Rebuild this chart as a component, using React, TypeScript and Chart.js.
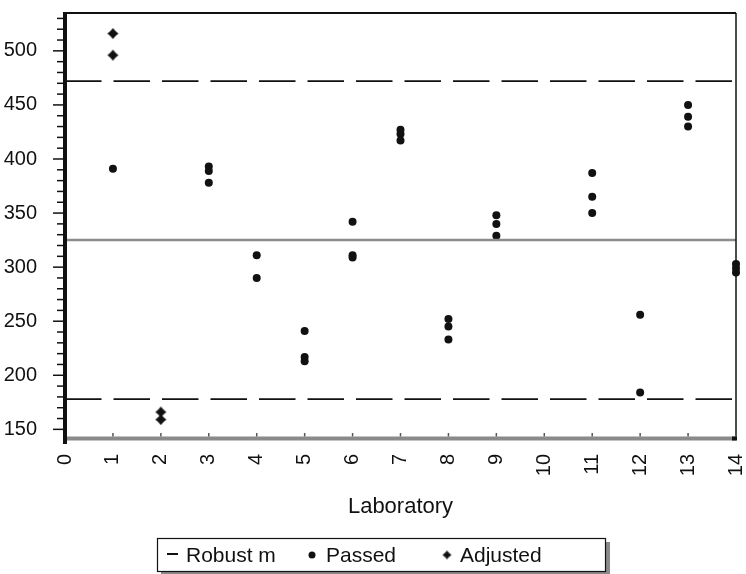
import React, { useEffect, useRef } from 'react';
import { Chart, registerables } from 'chart.js';

Chart.register(...registerables);

// ---- data ----
const xTickLabels = ['0', '1', '2', '3', '4', '5', '6', '7', '8', '9', '10', '11', '12', '13', '14'];
const yTickLabels = ['150', '200', '250', '300', '350', '400', '450', '500'];
const laboratories = [1, 2, 3, 4, 5, 6, 7, 8, 9, 10, 11, 12, 13, 14];
const passedValues: number[][] = [
  [391],
  [],
  [393, 389, 378],
  [311, 290],
  [241, 217, 213],
  [342, 311, 309],
  [427, 423, 417],
  [252, 245, 233],
  [348, 340, 329],
  [],
  [387, 365, 350],
  [256, 184],
  [450, 439, 430],
  [303, 299, 295],
];
const adjustedValues: number[][] = [
  [516, 496],
  [166, 159],
  [], [], [], [], [], [], [], [], [], [], [], [],
];
const robustMean = 325;
const upperLimit = 472;
const lowerLimit = 178;
const yMin = 142;
const yMax = 535;
const legendLabels = ['Robust m', 'Passed', 'Adjusted'];
const xTitle = 'Laboratory';

const FONT = "'Liberation Sans', Arial, sans-serif";

function makeStar(r: number, k: number): HTMLCanvasElement {
  const s = Math.ceil(r * 2) + 2;
  const c = document.createElement('canvas');
  c.width = s;
  c.height = s;
  const ctx = c.getContext('2d')!;
  const m = s / 2;
  ctx.fillStyle = '#111';
  ctx.beginPath();
  ctx.moveTo(m, m - r);
  ctx.quadraticCurveTo(m + r * k, m - r * k, m + r, m);
  ctx.quadraticCurveTo(m + r * k, m + r * k, m, m + r);
  ctx.quadraticCurveTo(m - r * k, m + r * k, m - r, m);
  ctx.quadraticCurveTo(m - r * k, m - r * k, m, m - r);
  ctx.closePath();
  ctx.fill();
  return c;
}

function toPoints(values: number[][]) {
  const pts: { x: number; y: number }[] = [];
  values.forEach((vals, i) => vals.forEach((v) => pts.push({ x: laboratories[i], y: v })));
  return pts;
}

export default function App() {
  const ref = useRef<HTMLCanvasElement | null>(null);

  useEffect(() => {
    if (!ref.current) return;
    const star = makeStar(5.5, 0.42);
    const legendStar = makeStar(4.5, 0.4);

    const decor = {
      id: 'decor',
      afterDraw(chart: any) {
        const { ctx, chartArea: ca, scales } = chart;
        const x = scales.x;
        const y = scales.y;
        const line = (x1: number, y1: number, x2: number, y2: number) => {
          ctx.beginPath();
          ctx.moveTo(x1, y1);
          ctx.lineTo(x2, y2);
          ctx.stroke();
        };
        ctx.save();
        // top border
        ctx.strokeStyle = '#111';
        ctx.lineWidth = 2;
        line(ca.left, ca.top, ca.right, ca.top);
        // right border
        ctx.lineWidth = 1.5;
        line(ca.right, ca.top, ca.right, ca.bottom);
        // x axis (gray thick)
        ctx.strokeStyle = '#8a8a8a';
        ctx.lineWidth = 4;
        line(ca.left, ca.bottom + 0.5, ca.right, ca.bottom + 0.5);
        ctx.fillStyle = '#111';
        ctx.fillRect(ca.right - 4, ca.bottom - 1.5, 5, 4);
        // x small ticks
        ctx.strokeStyle = '#555';
        ctx.lineWidth = 1.5;
        for (let i = 0; i <= 14; i++) {
          const px = x.getPixelForValue(i);
          line(px, ca.bottom - 1.5, px, ca.bottom - 5);
        }
        // y ticks
        ctx.strokeStyle = '#111';
        ctx.lineWidth = 1.5;
        for (let v = 150; v <= 530; v += 10) {
          const py = y.getPixelForValue(v);
          const major = v % 50 === 0;
          line(major ? ca.left - 12 : ca.left - 8, py, ca.left, py);
        }
        // y axis line
        ctx.lineWidth = 4;
        line(ca.left, ca.top - 1, ca.left, ca.bottom + 6);

        // x title
        ctx.fillStyle = '#111';
        ctx.font = `22px ${FONT}`;
        ctx.textAlign = 'center';
        ctx.textBaseline = 'middle';
        ctx.fillText(xTitle, (ca.left + ca.right) / 2, 507);

        // legend box
        const bx = 157, by = 538, bw = 448, bh = 33;
        ctx.fillStyle = '#8a8a8a';
        ctx.fillRect(bx + bw, by + 4, 5, bh);
        ctx.fillRect(bx + 4, by + bh, bw, 3);
        ctx.fillStyle = '#fff';
        ctx.fillRect(bx, by, bw, bh);
        ctx.strokeStyle = '#111';
        ctx.lineWidth = 1.2;
        ctx.strokeRect(bx + 0.5, by + 0.5, bw, bh);
        const cy = by + 17;
        ctx.lineWidth = 2;
        line(167, cy - 1, 178, cy - 1);
        ctx.fillStyle = '#111';
        ctx.beginPath();
        ctx.arc(312, cy, 3.5, 0, Math.PI * 2);
        ctx.fill();
        ctx.drawImage(legendStar, 447 - legendStar.width / 2, cy - legendStar.height / 2);
        ctx.font = `21px ${FONT}`;
        ctx.textAlign = 'left';
        ctx.textBaseline = 'middle';
        ctx.fillText(legendLabels[0], 186, cy + 1);
        ctx.fillText(legendLabels[1], 326, cy + 1);
        ctx.fillText(legendLabels[2], 460, cy + 1);
        ctx.restore();
      },
    };

    const chart = new Chart(ref.current, {
      type: 'scatter',
      data: {
        datasets: [
          {
            label: legendLabels[0],
            data: [{ x: 0, y: robustMean }, { x: 14, y: robustMean }],
            showLine: true,
            borderColor: '#8c8c8c',
            borderWidth: 2.5,
            pointRadius: 0,
          },
          {
            label: 'upper',
            data: [{ x: 0, y: upperLimit }, { x: 14, y: upperLimit }],
            showLine: true,
            borderColor: '#111',
            borderWidth: 1.8,
            borderDash: [36.5, 12],
            pointRadius: 0,
          },
          {
            label: 'lower',
            data: [{ x: 0, y: lowerLimit }, { x: 14, y: lowerLimit }],
            showLine: true,
            borderColor: '#111',
            borderWidth: 1.8,
            borderDash: [36.5, 12],
            pointRadius: 0,
          },
          {
            label: legendLabels[1],
            data: toPoints(passedValues),
            pointStyle: 'circle',
            pointRadius: 4,
            pointBackgroundColor: '#111',
            pointBorderWidth: 0,
            clip: false,
          },
          {
            label: legendLabels[2],
            data: toPoints(adjustedValues),
            pointStyle: star as any,
            pointRadius: 5.5,
            clip: false,
          },
        ] as any,
      },
      options: {
        responsive: false,
        animation: false,
        devicePixelRatio: 1,
        layout: { padding: { top: 13, right: 10, left: 0, bottom: 0 } },
        plugins: {
          legend: { display: false },
          tooltip: { enabled: false },
          title: { display: false },
        },
        scales: {
          x: {
            type: 'linear',
            min: 0,
            max: 14,
            grid: { display: false },
            border: { display: false },
            afterBuildTicks: (scale: any) => {
              scale.ticks = xTickLabels.map((l) => ({ value: Number(l) }));
            },
            afterFit: (scale: any) => {
              scale.height = 136;
              scale.paddingLeft = 0;
              scale.paddingRight = 0;
            },
            ticks: {
              autoSkip: false,
              minRotation: 90,
              maxRotation: 90,
              padding: 8,
              color: '#111',
              font: { size: 20, family: FONT },
              callback: (v: any) => xTickLabels[Number(v)] ?? '',
            },
          },
          y: {
            type: 'linear',
            min: yMin,
            max: yMax,
            grid: { display: false },
            border: { display: false },
            afterBuildTicks: (scale: any) => {
              scale.ticks = yTickLabels.map((l) => ({ value: Number(l) }));
            },
            afterFit: (scale: any) => {
              scale.width = 65;
              scale.paddingTop = 0;
              scale.paddingBottom = 0;
            },
            ticks: {
              autoSkip: false,
              padding: 20,
              color: '#111',
              font: { size: 20, family: FONT },
              callback: (v: any) => String(v),
            },
          },
        },
      },
      plugins: [decor],
    } as any);

    return () => chart.destroy();
  }, []);

  return (
    <canvas
      ref={ref}
      width={746}
      height={574}
      style={{ position: 'fixed', left: 0, top: 0, width: 746, height: 574, display: 'block', background: '#fff' }}
    />
  );
}
